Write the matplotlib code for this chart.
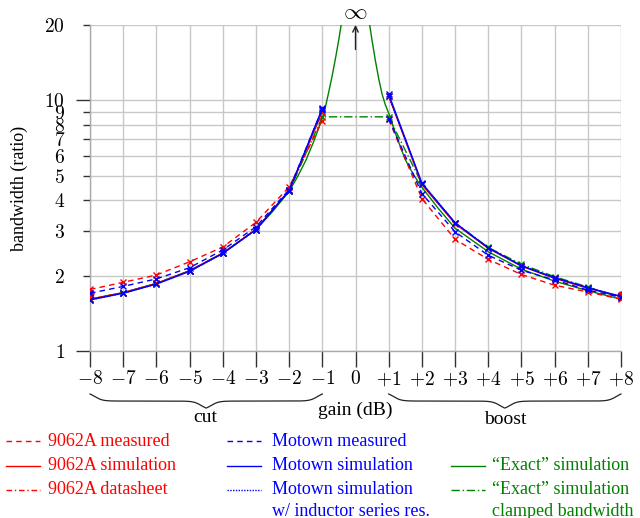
import numpy as np
import matplotlib
matplotlib.use("Agg")
import matplotlib.pyplot as plt
from matplotlib.lines import Line2D
from matplotlib.transforms import blended_transform_factory

plt.rcParams['mathtext.fontset'] = 'cm'
plt.rcParams['font.family'] = ['Liberation Serif', 'DejaVu Serif']

RED = '#ff0000'
BLUE = '#0000ff'
GREEN = '#008000'
NA = np.nan

# ---------------- data ----------------
# gain 0 has no value (bandwidth -> infinity), so the curves break there
gains = [-8, -7, -6, -5, -4, -3, -2, -1, 0, 1, 2, 3, 4, 5, 6, 7, 8]

a9062_measured = [1.76, 1.88, 2.01, 2.27, 2.60, 3.26, 4.52, 8.3, NA, 8.4, 4.06, 2.79, 2.32, 2.02, 1.83, 1.72, 1.61]
a9062_simulation = [1.61, 1.71, 1.86, 2.09, 2.46, 3.06, 4.38, 9.0, NA, 10.4, 4.62, 3.22, 2.57, 2.18, 1.95, 1.78, 1.65]
a9062_datasheet_gain = [-8, 0, 8]
a9062_datasheet = [1.71, NA, 1.68]

motown_measured = [1.70, 1.81, 1.94, 2.15, 2.53, 3.13, 4.41, 9.25, NA, 8.45, 4.25, 2.99, 2.41, 2.10, 1.92, 1.75, 1.64]
motown_simulation = [1.60, 1.70, 1.85, 2.08, 2.45, 3.05, 4.36, 9.3, NA, 10.6, 4.68, 3.25, 2.58, 2.19, 1.96, 1.79, 1.65]
motown_sim_series_res = [1.60, 1.70, 1.85, 2.08, 2.45, 3.05, 4.35, 9.2, NA, 10.4, 4.65, 3.24, 2.58, 2.19, 1.96, 1.79, 1.65]

exact_gain = [-8, -7, -6, -5, -4, -3, -2.5, -2, -1.75, -1.5, -1.25, -1, -0.9, -0.8, -0.7, -0.6, -0.5, -0.42, -0.35,
              0,
              0.35, 0.42, 0.5, 0.6, 0.7, 0.8, 0.9, 1, 1.25, 1.5, 1.75, 2, 2.5, 3, 4, 5, 6, 7, 8]
exact_sim = [1.61, 1.71, 1.86, 2.09, 2.46, 3.05, 3.6, 4.34, 4.95, 5.75, 6.9, 8.5, 9.5, 10.9, 12.6, 14.8, 17.6, 20.5, 24.0,
             NA,
             24.0, 20.3, 17.3, 14.4, 12.2, 10.6, 9.6, 8.9, 7.1, 5.8, 5.05, 4.5, 3.7, 3.09, 2.49, 2.12, 1.90, 1.74, 1.61]

clamped_gain = [-8, -7, -6, -5, -4, -3, -2, -1, 1, 2, 3, 4, 5, 6, 7, 8]
exact_clamped = [1.61, 1.71, 1.86, 2.09, 2.46, 3.05, 4.34, 8.6, 8.6, 4.65, 3.25, 2.59, 2.22, 1.98, 1.80, 1.63]

x_ticks = [-8, -7, -6, -5, -4, -3, -2, -1, 0, 1, 2, 3, 4, 5, 6, 7, 8]
x_tick_labels = ['$-8$', '$-7$', '$-6$', '$-5$', '$-4$', '$-3$', '$-2$', '$-1$', '$0$',
                 '$+1$', '$+2$', '$+3$', '$+4$', '$+5$', '$+6$', '$+7$', '$+8$']
y_major = [1, 10]
y_minor = [2, 3, 4, 5, 6, 7, 8, 9, 20]

# ---------------- figure ----------------
fig = plt.figure(figsize=(6.4, 5.18), dpi=100)
ax = fig.add_axes([90/640, 1-351/518, (621-90)/640, (351-25)/518])
ax.set_yscale('log')
ax.set_xlim(-8, 8)
ax.set_ylim(1, 20)

lw = 1.0
ms = 5
ax.plot(exact_gain, exact_sim, color=GREEN, lw=lw, zorder=3)
ax.plot(clamped_gain, exact_clamped, color=GREEN, lw=lw, ls=(0, (6, 2, 1, 2)), marker='x', ms=ms, zorder=3)
ax.plot(gains, a9062_measured, color=RED, lw=lw, ls=(0, (4, 3)), marker='x', ms=ms, zorder=4)
ax.plot(gains, a9062_simulation, color=RED, lw=lw, marker='x', ms=ms, zorder=4)
ax.plot(a9062_datasheet_gain, a9062_datasheet, color=RED, lw=lw, ls=(0, (4, 2, 1, 2)), marker='o', ms=5, zorder=4)
ax.plot(gains, motown_measured, color=BLUE, lw=lw, ls=(0, (4, 3)), marker='x', ms=ms, zorder=5)
ax.plot(gains, motown_simulation, color=BLUE, lw=lw, marker='x', ms=ms, zorder=5)
ax.plot(gains, motown_sim_series_res, color=BLUE, lw=lw, ls=(0, (1, 1)), marker='x', ms=ms, zorder=5)

# grid / ticks
for yv in y_major + y_minor:
    ax.axhline(yv, color='#c8c8c8', lw=1.0, zorder=1)
for xv in x_ticks:
    ax.axvline(xv, color='#c8c8c8', lw=1.0, zorder=1)

ax.set_yticks(y_major)
ax.set_yticklabels(['$1$', '$10$'])
ax.set_yticks(y_minor, minor=True)
ax.set_yticklabels(['$%d$' % v for v in y_minor], minor=True)
ax.tick_params(axis='y', which='major', length=10, width=1, color='#333333', pad=8, labelsize=14)
ax.tick_params(axis='y', which='minor', length=5, width=1, color='#333333', pad=13, labelsize=14)
ax.set_xticks(x_ticks)
ax.set_xticklabels(x_tick_labels)
ax.tick_params(axis='x', which='major', length=11.5, width=1, color='#333333', pad=2, labelsize=14)
ax.tick_params(axis='x', which='minor', length=0)
for s in ['top', 'right']:
    ax.spines[s].set_visible(False)
for s in ['left', 'bottom']:
    ax.spines[s].set_color('#aaaaaa')
    ax.spines[s].set_linewidth(1.0)

ax.set_ylabel('bandwidth (ratio)', fontsize=13)
ax.yaxis.set_label_coords((28-90)/531, 0.5)

# infinity marker
ax.annotate('', xy=(0, 20), xytext=(0, 10**((351-49)/251)),
            arrowprops=dict(arrowstyle='->', color='#222222', lw=1.0, shrinkA=0, shrinkB=0),
            annotation_clip=False)
ax.text(0, 10**((351-12)/251), r'$\infty$', ha='center', va='center', fontsize=17, clip_on=False)

# braces
tr = blended_transform_factory(ax.transData, fig.transFigure)

def brace(x0, x1, ytop, h):
    t = np.linspace(0, 1, 400)
    xs = x0 + (x1 - x0) * t
    b = 60.0
    half = np.where(t < 0.5, t, 1 - t)
    curve = 1 / (1 + np.exp(-b * (half - 0.02))) + 1 / (1 + np.exp(-b * (half - 0.48)))
    curve = (curve - curve.min()) / (curve.max() - curve.min())
    ys = ytop - h * curve
    fig.add_artist(Line2D(xs, ys, transform=tr, color='#222222', lw=0.9))

brace(-8, -1, 1-394/518, 14/518)
brace(1, 8, 1-394/518, 14/518)
fig.text(205/640, 1-418/518, 'cut', ha='center', va='center', fontsize=14)
fig.text(355/640, 1-410/518, 'gain (dB)', ha='center', va='center', fontsize=14)
fig.text(505/640, 1-420/518, 'boost', ha='center', va='center', fontsize=14)

# legend (manual)
LFS = 13

def entry(x_line, x_text, y, color, ls, text):
    yf = 1 - y/518
    fig.add_artist(Line2D([x_line/640, (x_line+34)/640], [yf, yf], transform=fig.transFigure,
                          color=color, lw=1.0, ls=ls))
    fig.text(x_text/640, yf, text, ha='left', va='center', fontsize=LFS, color=color)

entry(6, 48, 441, RED, (0, (4, 3)), '9062A measured')
entry(6, 48, 466, RED, '-', '9062A simulation')
entry(6, 48, 490, RED, (0, (4, 2, 1, 2)), '9062A datasheet')
entry(227, 272, 441, BLUE, (0, (4, 3)), 'Motown measured')
entry(227, 272, 466, BLUE, '-', 'Motown simulation')
entry(227, 272, 490, BLUE, (0, (1, 1)), 'Motown simulation')
fig.text(272/640, 1-511/518, 'w/ inductor series res.', ha='left', va='center', fontsize=LFS, color=BLUE)
entry(451, 492, 466, GREEN, '-', '\u201cExact\u201d simulation')
entry(451, 492, 490, GREEN, (0, (6, 2, 1, 2)), '\u201cExact\u201d simulation')
fig.text(492/640, 1-511/518, 'clamped bandwidth', ha='left', va='center', fontsize=LFS, color=GREEN)

fig.savefig('out.png', dpi=100)
